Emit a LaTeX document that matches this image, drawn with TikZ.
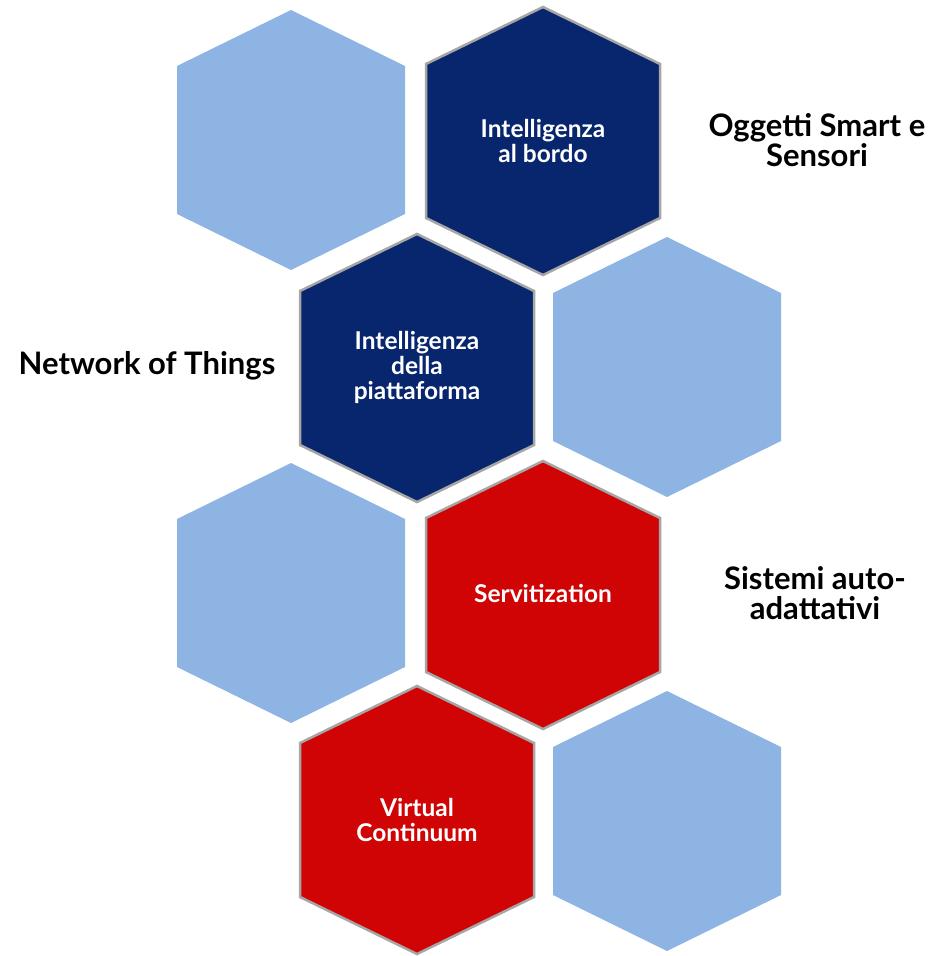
\documentclass[tikz,border=0pt]{standalone}
\usepackage{fontspec}
\setmainfont{Lato}
\definecolor{hexblue}{RGB}{142,180,227}
\definecolor{hexnavy}{RGB}{8,38,110}
\definecolor{hexred}{RGB}{208,4,4}

\begin{document}
\begin{tikzpicture}[x=1pt, y=-1pt,
						lbl/.style = {font=\bfseries\fontsize{31}{30}\selectfont, align=center, text=black},
						hextxt/.style = {font=\bfseries\fontsize{24.5}{25}\selectfont, align=center, text=white},
						pics/hexlight/.style = {code={
							\fill[hexblue] (0,-130) -- (114,-74) -- (114,74) -- (0,130) -- (-114,74) -- (-114,-74) -- cycle;}},
						pics/hexdark/.style = {code={
							\filldraw[fill=#1, draw=gray!70, line width=2.5pt] (0,-134) -- (117,-77) -- (117,77) -- (0,134) -- (-117,77) -- (-117,-77) -- cycle;}}
						]
						\useasboundingbox (0,0) rectangle (942,956);

						% --- Fila 1 ---
						\pic at (291,140) {hexlight};
						\pic at (543,141) {hexdark=hexnavy};
						\node[hextxt] (edge_int) at (543,141) {Intelligenza \\ al bordo};
						\node[lbl] (smart_obj) at (817,140) {Oggetti Smart e \\ Sensori};

						% --- Fila 2 ---
						\pic at (417,368) {hexdark=hexnavy};
						\pic at (667,367) {hexlight};
						\node[hextxt] (plat_int) at (417,367) {Intelligenza \\ della \\ piattaforma};
						\node[lbl] (net_things) at (147,366) {Network of Things};

						% --- Fila 3 ---
						\pic at (291,593) {hexlight};
						\pic at (543,595) {hexdark=hexred};
						\node[hextxt] (servit) at (543,593) {Servitization};
						\node[lbl] (self_adapt) at (815,593) {Sistemi auto- \\ adattativi};

						% --- Fila 4 ---
						\pic at (417,820) {hexdark=hexred};
						\pic at (667,821) {hexlight};
						\node[hextxt] (virt_cont) at (417,820) {Virtual \\ Continuum};

\end{tikzpicture}
\end{document}
